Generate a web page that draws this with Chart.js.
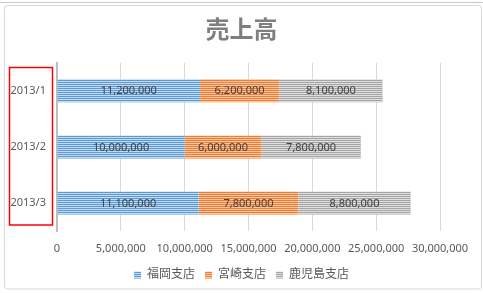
<!DOCTYPE html>
<html lang="ja">
<head>
<meta charset="utf-8">
<title>売上高</title>
<script src="https://cdn.jsdelivr.net/npm/chart.js@4.4.1/dist/chart.umd.min.js"></script>
<style>
  html, body { margin: 0; padding: 0; background: #ffffff; }
  #wrap { position: relative; width: 483px; height: 293px; }
</style>
</head>
<body>
<div id="wrap"><canvas id="salesChart"></canvas></div>
<script>
  // データ
  const months = ['2013/1', '2013/2', '2013/3'];
  const fukuoka = [11200000, 10000000, 11100000];
  const miyazaki = [6200000, 6000000, 7800000];
  const kagoshima = [8100000, 7800000, 8800000];
  const storeNames = ['福岡支店', '宮崎支店', '鹿児島支店'];
  const xTicks = [0, 5000000, 10000000, 15000000, 20000000, 25000000, 30000000];

  const JP_FONT = '"Noto Sans", "Noto Sans CJK JP", sans-serif';

  // 横縞パターン（Excel の塗りつぶしパターン風）
  function stripe(base, light) {
    const c = document.createElement('canvas');
    c.width = 4;
    c.height = 2;
    const g = c.getContext('2d');
    g.fillStyle = base;
    g.fillRect(0, 0, 4, 1);
    g.fillStyle = light;
    g.fillRect(0, 1, 4, 1);
    return g.createPattern(c, 'repeat');
  }

  const fmt = (v) => Number(v).toLocaleString('en-US');

  // 外枠・赤枠の装飾
  const framePlugin = {
    id: 'frame',
    beforeDraw(chart) {
      const ctx = chart.ctx;
      ctx.save();
      ctx.fillStyle = '#ffffff';
      ctx.fillRect(0, 0, chart.width, chart.height);
      ctx.strokeStyle = '#c8c8c8';
      ctx.lineWidth = 1;
      ctx.beginPath();
      ctx.moveTo(0, 2.5);
      ctx.lineTo(chart.width, 2.5);
      ctx.stroke();
      ctx.strokeStyle = '#d9d9d9';
      ctx.beginPath();
      ctx.roundRect(4.5, 5.5, 477, 283.5, 3);
      ctx.stroke();
      ctx.restore();
    },
    afterDraw(chart) {
      const ctx = chart.ctx;
      ctx.save();
      ctx.strokeStyle = '#ff0000';
      ctx.lineWidth = 1.5;
      ctx.strokeRect(9.5, 67.5, 43, 157.5);
      ctx.restore();
    }
  };

  // 棒の中央に値を表示
  const valueLabels = {
    id: 'valueLabels',
    afterDatasetsDraw(chart) {
      const ctx = chart.ctx;
      ctx.save();
      ctx.font = '11px ' + JP_FONT;
      ctx.fillStyle = '#404040';
      ctx.textAlign = 'center';
      ctx.textBaseline = 'middle';
      chart.data.datasets.forEach((ds, i) => {
        chart.getDatasetMeta(i).data.forEach((bar, j) => {
          const p = bar.getCenterPoint();
          ctx.fillText(fmt(ds.data[j]), p.x, p.y + 0.5);
        });
      });
      ctx.restore();
    }
  };

  const ctx = document.getElementById('salesChart');

  new Chart(ctx, {
    type: 'bar',
    data: {
      labels: months,
      datasets: [
        { label: storeNames[0], data: fukuoka, backgroundColor: stripe('#5b9bd5', '#c2d9f0') },
        { label: storeNames[1], data: miyazaki, backgroundColor: stripe('#ed7d31', '#f8c6a4') },
        { label: storeNames[2], data: kagoshima, backgroundColor: stripe('#a5a5a5', '#dedede') }
      ]
    },
    options: {
      indexAxis: 'y',
      responsive: true,
      maintainAspectRatio: false,
      animation: false,
      devicePixelRatio: 1,
      datasets: {
        bar: {
          borderWidth: 0,
          categoryPercentage: 1,
          barPercentage: 0.41
        }
      },
      layout: {
        padding: { top: 6, left: 0, right: 0, bottom: 2 }
      },
      plugins: {
        title: {
          display: true,
          text: '売上高',
          color: '#7f7f7f',
          font: { family: JP_FONT, size: 24, weight: 'bold' },
          padding: { top: 11, bottom: 17 }
        },
        legend: {
          position: 'bottom',
          labels: {
            boxWidth: 7,
            boxHeight: 7,
            padding: 10,
            color: '#595959',
            font: { family: JP_FONT, size: 12 }
          }
        },
        tooltip: { enabled: false }
      },
      scales: {
        x: {
          stacked: true,
          min: 0,
          max: 30000000,
          afterBuildTicks(scale) {
            scale.ticks = xTicks.map((v) => ({ value: v }));
          },
          afterFit(scale) {
            scale.paddingLeft = 0;
            scale.paddingRight = 43;
            scale.height = 28;
          },
          grid: {
            color: '#d9d9d9',
            drawTicks: false
          },
          border: { display: false },
          ticks: {
            padding: 11,
            color: '#595959',
            font: { family: JP_FONT, size: 11 },
            maxRotation: 0,
            callback: (v) => fmt(v)
          }
        },
        y: {
          stacked: true,
          afterFit(scale) {
            scale.width = 57;
          },
          grid: { display: false, drawTicks: false },
          border: { color: '#bfbfbf', width: 2 },
          ticks: {
            padding: 11,
            color: '#595959',
            font: { family: JP_FONT, size: 11 }
          }
        }
      }
    },
    plugins: [framePlugin, valueLabels]
  });
</script>
</body>
</html>
